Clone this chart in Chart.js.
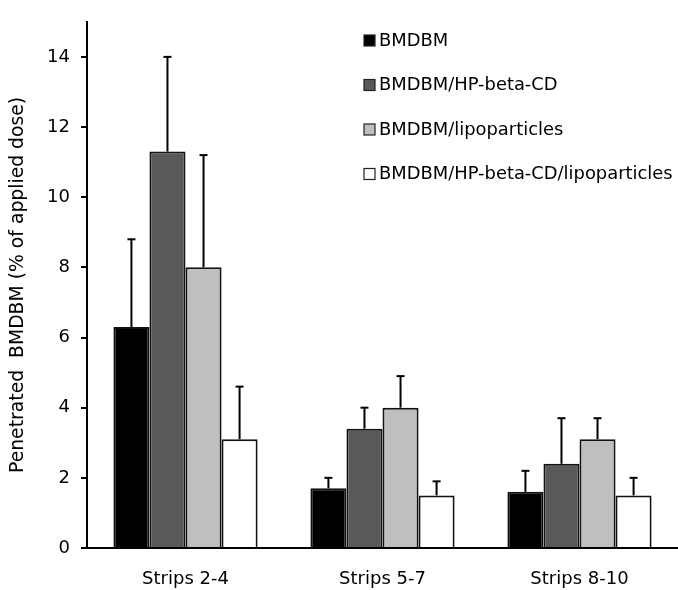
<!DOCTYPE html>
<html>
<head>
<meta charset="utf-8">
<script src="https://cdn.jsdelivr.net/npm/chart.js@4.4.1/dist/chart.umd.min.js"></script>
<style>
  html, body { margin: 0; padding: 0; background: #fff; }
  #wrap { width: 678px; height: 590px; position: relative; }
</style>
</head>
<body>
<div id="wrap"><canvas id="chart"></canvas></div>
<script>
// ---------- data ----------
const categories = ['Strips 2-4', 'Strips 5-7', 'Strips 8-10'];
const seriesNames = ['BMDBM', 'BMDBM/HP-beta-CD', 'BMDBM/lipoparticles', 'BMDBM/HP-beta-CD/lipoparticles'];
const seriesColors = ['#000000', '#595959', '#bfbfbf', '#ffffff'];
const valBMDBM       = [6.3, 1.7, 1.6];
const valHPbCD       = [11.3, 3.4, 2.4];
const valLipo        = [8.0, 4.0, 3.1];
const valHPbCDLipo   = [3.1, 1.5, 1.5];
const errBMDBM       = [2.5, 0.3, 0.6];
const errHPbCD       = [2.7, 0.6, 1.3];
const errLipo        = [3.2, 0.9, 0.6];
const errHPbCDLipo   = [1.5, 0.4, 0.5];
const yTicks = [0, 2, 4, 6, 8, 10, 12, 14];

const values = [valBMDBM, valHPbCD, valLipo, valHPbCDLipo];
const errors = [errBMDBM, errHPbCD, errLipo, errHPbCDLipo];

const FONT = 'DejaVu Sans, Verdana, sans-serif';

// error bars (upper only) + legend
const extras = {
  id: 'extras',
  afterDatasetsDraw(chart){
    const ctx = chart.ctx;
    const y = chart.scales.y;
    ctx.save();
    ctx.strokeStyle = '#000'; ctx.lineWidth = 2;
    chart.data.datasets.forEach((ds, di) => {
      const meta = chart.getDatasetMeta(di);
      meta.data.forEach((bar, i) => {
        const top = y.getPixelForValue(ds.data[i]);
        const end = y.getPixelForValue(ds.data[i] + errors[di][i]);
        ctx.beginPath(); ctx.moveTo(bar.x, top); ctx.lineTo(bar.x, end); ctx.stroke();
        ctx.beginPath(); ctx.moveTo(bar.x - 4, end); ctx.lineTo(bar.x + 4, end); ctx.stroke();
      });
    });
    // legend
    ctx.font = '17.9px ' + FONT; ctx.textBaseline = 'middle';
    chart.data.datasets.forEach((ds, di) => {
      const ly = 40 + di * 44.5;
      ctx.fillStyle = ds.backgroundColor;
      ctx.fillRect(364, ly - 5, 11, 11);
      ctx.lineWidth = 1.2; ctx.strokeStyle = '#222';
      ctx.strokeRect(364, ly - 5, 11, 11);
      ctx.fillStyle = '#000';
      ctx.fillText(ds.label, 379, ly + 1);
    });
    ctx.restore();
  }
};

new Chart(document.getElementById('chart'), {
  type: 'bar',
  data: {
    labels: categories,
    datasets: seriesNames.map((name, i) => ({
      label: name,
      data: values[i],
      backgroundColor: seriesColors[i],
      borderColor: '#111',
      borderWidth: 2,
      categoryPercentage: 0.732,
      barPercentage: 1.0
    }))
  },
  options: {
    responsive: true, maintainAspectRatio: false, animation: false,
    layout: { padding: { top: 15, right: 0, left: 0, bottom: 0 } },
    plugins: { legend: { display: false }, tooltip: { enabled: false } },
    scales: {
      x: {
        grid: { display: false },
        border: { display: true, color: '#000', width: 2 },
        ticks: { color: '#000', font: { family: FONT, size: 18 }, padding: 13 },
        afterFit(scale){ scale.height = 42; }
      },
      y: {
        min: 0, max: 15,
        afterBuildTicks(scale){ scale.ticks = yTicks.map(v => ({ value: v })); },
        grid: { display: true, drawOnChartArea: false, drawTicks: true, tickLength: 6, color: '#000', lineWidth: 2 },
        border: { display: true, color: '#000', width: 2 },
        ticks: { color: '#000', font: { family: FONT, size: 18 }, padding: 11 },
        title: { display: true, text: 'Penetrated  BMDBM (% of applied dose)', color: '#000', font: { family: FONT, size: 18.8 }, padding: { top: 7, bottom: 4 } },
        afterFit(scale){ scale.width = 87; }
      }
    }
  },
  plugins: [extras]
});
</script>
</body>
</html>
